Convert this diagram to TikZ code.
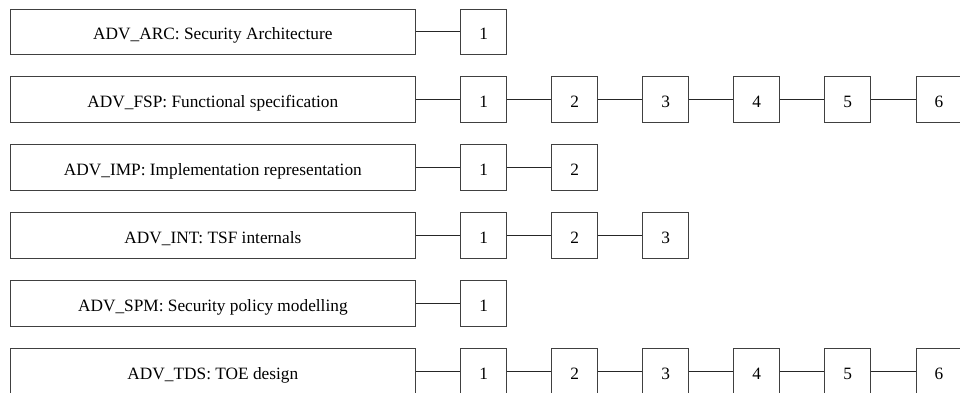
\documentclass[tikz,border=0pt]{standalone}
\usepackage{fontspec}
\setmainfont{Liberation Serif}
\begin{document}
\begin{tikzpicture}[x=1pt,y=1pt,
  family/.style={draw=black!75, line width=1pt, fill=white, minimum width=405.7pt, minimum height=45.5pt, inner sep=0pt, text height=16.2pt, text depth=0pt, font=\fontsize{17.3}{20}\selectfont},
  level/.style={draw=black!75, line width=1pt, fill=white, minimum width=45.7pt, minimum height=45.5pt, inner sep=0pt, text height=16pt, text depth=0pt, font=\fontsize{17.3}{20}\selectfont},
  link/.style={draw=black!85, line width=1pt}]
\useasboundingbox (0,0) rectangle (960,-392);
\foreach \r/\txt/\n in {1/{ADV\_ARC: Security Architecture}/1,
                        2/{ADV\_FSP: Functional specification}/6,
                        3/{ADV\_IMP: Implementation representation}/2,
                        4/{ADV\_INT: TSF internals}/3,
                        5/{ADV\_SPM: Security policy modelling}/1,
                        6/{ADV\_TDS: TOE design}/6}{
  \pgfmathsetmacro{\yy}{-31.8-67.9*(\r-1)}
  \node[family] (f\r) at (212.85,\yy) {\txt};
  \foreach \j in {1,...,\n}{
    \pgfmathsetmacro{\xx}{483.6+91.05*(\j-1)}
    \node[level] (f\r-\j) at (\xx,\yy) {\j};
  }
  \draw[link] (f\r) -- (f\r-1);
  \ifnum\n>1
    \foreach \j [evaluate=\j as \k using int(\j-1)] in {2,...,\n}{
      \draw[link] (f\r-\k) -- (f\r-\j);
    }
  \fi
}
\end{tikzpicture}
\end{document}
